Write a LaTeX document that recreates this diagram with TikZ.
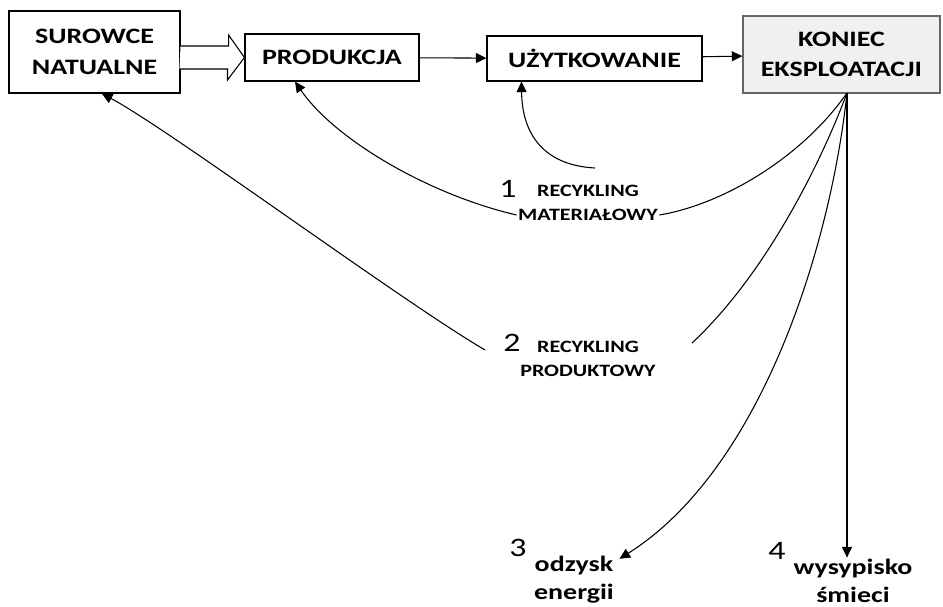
\documentclass[tikz,border=0pt]{standalone}
\usepackage{fontspec}
\setmainfont{Carlito}[FakeStretch=1.27]
\usetikzlibrary{arrows.meta}

\tikzset{
  box/.style={draw, thick, align=center, inner sep=0pt, font=\bfseries\fontsize{16.5}{23}\selectfont},
  tag/.style={inner sep=1pt, font=\bfseries\fontsize{13}{15}\selectfont},
  num/.style={inner sep=0pt, font=\fontsize{20}{22}\selectfont},
  dest/.style={inner sep=1pt, align=center, font=\bfseries\fontsize{16.5}{21}\selectfont},
  flow/.style={thick, -{Triangle[length=8pt,width=7.5pt]}}
}

\begin{document}
\begin{tikzpicture}[x=0.75pt, y=-0.75pt]
    \useasboundingbox (0,0) rectangle (943,607);
    % stages
    \node (sur) [box, minimum width=128.25pt, minimum height=61.5pt] at (94.5,52) {SUROWCE\\NATUALNE};
    \node (prod) [box, minimum width=130.5pt, minimum height=35.25pt] at (332,57.5) {PRODUKCJA};
    \node (uzyt) [box, minimum width=161.25pt, minimum height=33.75pt] at (594.5,58.5) {UŻYTKOWANIE};
    \node (kon) [box, draw=black!60, fill=black!6, minimum width=147.75pt, minimum height=57.75pt] at (841.5,54.5) {KONIEC\\EKSPLOATACJI};
    % hollow arrow
    \draw[thick, fill=white] (sur.east |- prod) ++(0,-11.5) -- ++(48,0) -- ++(0,-11) -- (prod.west)
        -- ++(-17,22.5) -- ++(0,-11) -- ++(-48,0);
    \draw[flow] (prod) -- (uzyt);
    \draw[flow] (uzyt) -- (kon);
    % labels
    \node (n1) [num] at (508,189) {1};
    \node (rec1) [tag] at (588,191) {RECYKLING};
    \node (mat) [tag] at (588,215) {MATERIAŁOWY};
    \node (n2) [num] at (512,343) {2};
    \node (rec2) [tag] at (588,346.5) {RECYKLING};
    \node (prd) [tag] at (588,371) {PRODUKTOWY};
    \node (n3) [num] at (518,548) {3};
    \node (odz) [dest] at (574,580) {odzysk\\energii};
    \node (n4) [num] at (777,551) {4};
    \node (wys) [dest] at (853,581) {wysypisko\\śmieci};
    % free ends
    \coordinate (src) at (847,93);
    \coordinate (u1) at (595,168);
    \coordinate (p2r) at (692,343);
    \coordinate (p2l) at (485,350);
    % curves
    \draw[thick] (src) .. controls (800,160) and (720,205) .. (mat.east);
    \draw[flow] (mat.west) .. controls (430,195) and (335,140) .. ([xshift=-27.75pt]prod.south);
    \draw[flow] (u1) .. controls (540,165) and (522,130) .. ([xshift=26.25pt]uzyt.south west);
    \draw[thick] (src) .. controls (820,165) and (765,275) .. (p2r);
    \draw[flow] (p2l) .. controls (400,300) and (170,130) .. ([xshift=5.5pt]sur.south);
    \draw[flow] (src) .. controls (830,250) and (760,470) .. ([shift={(3pt,-3pt)}]odz.north east);
    \draw[flow] (src) -- (src |- wys.north);
\end{tikzpicture}
\end{document}
